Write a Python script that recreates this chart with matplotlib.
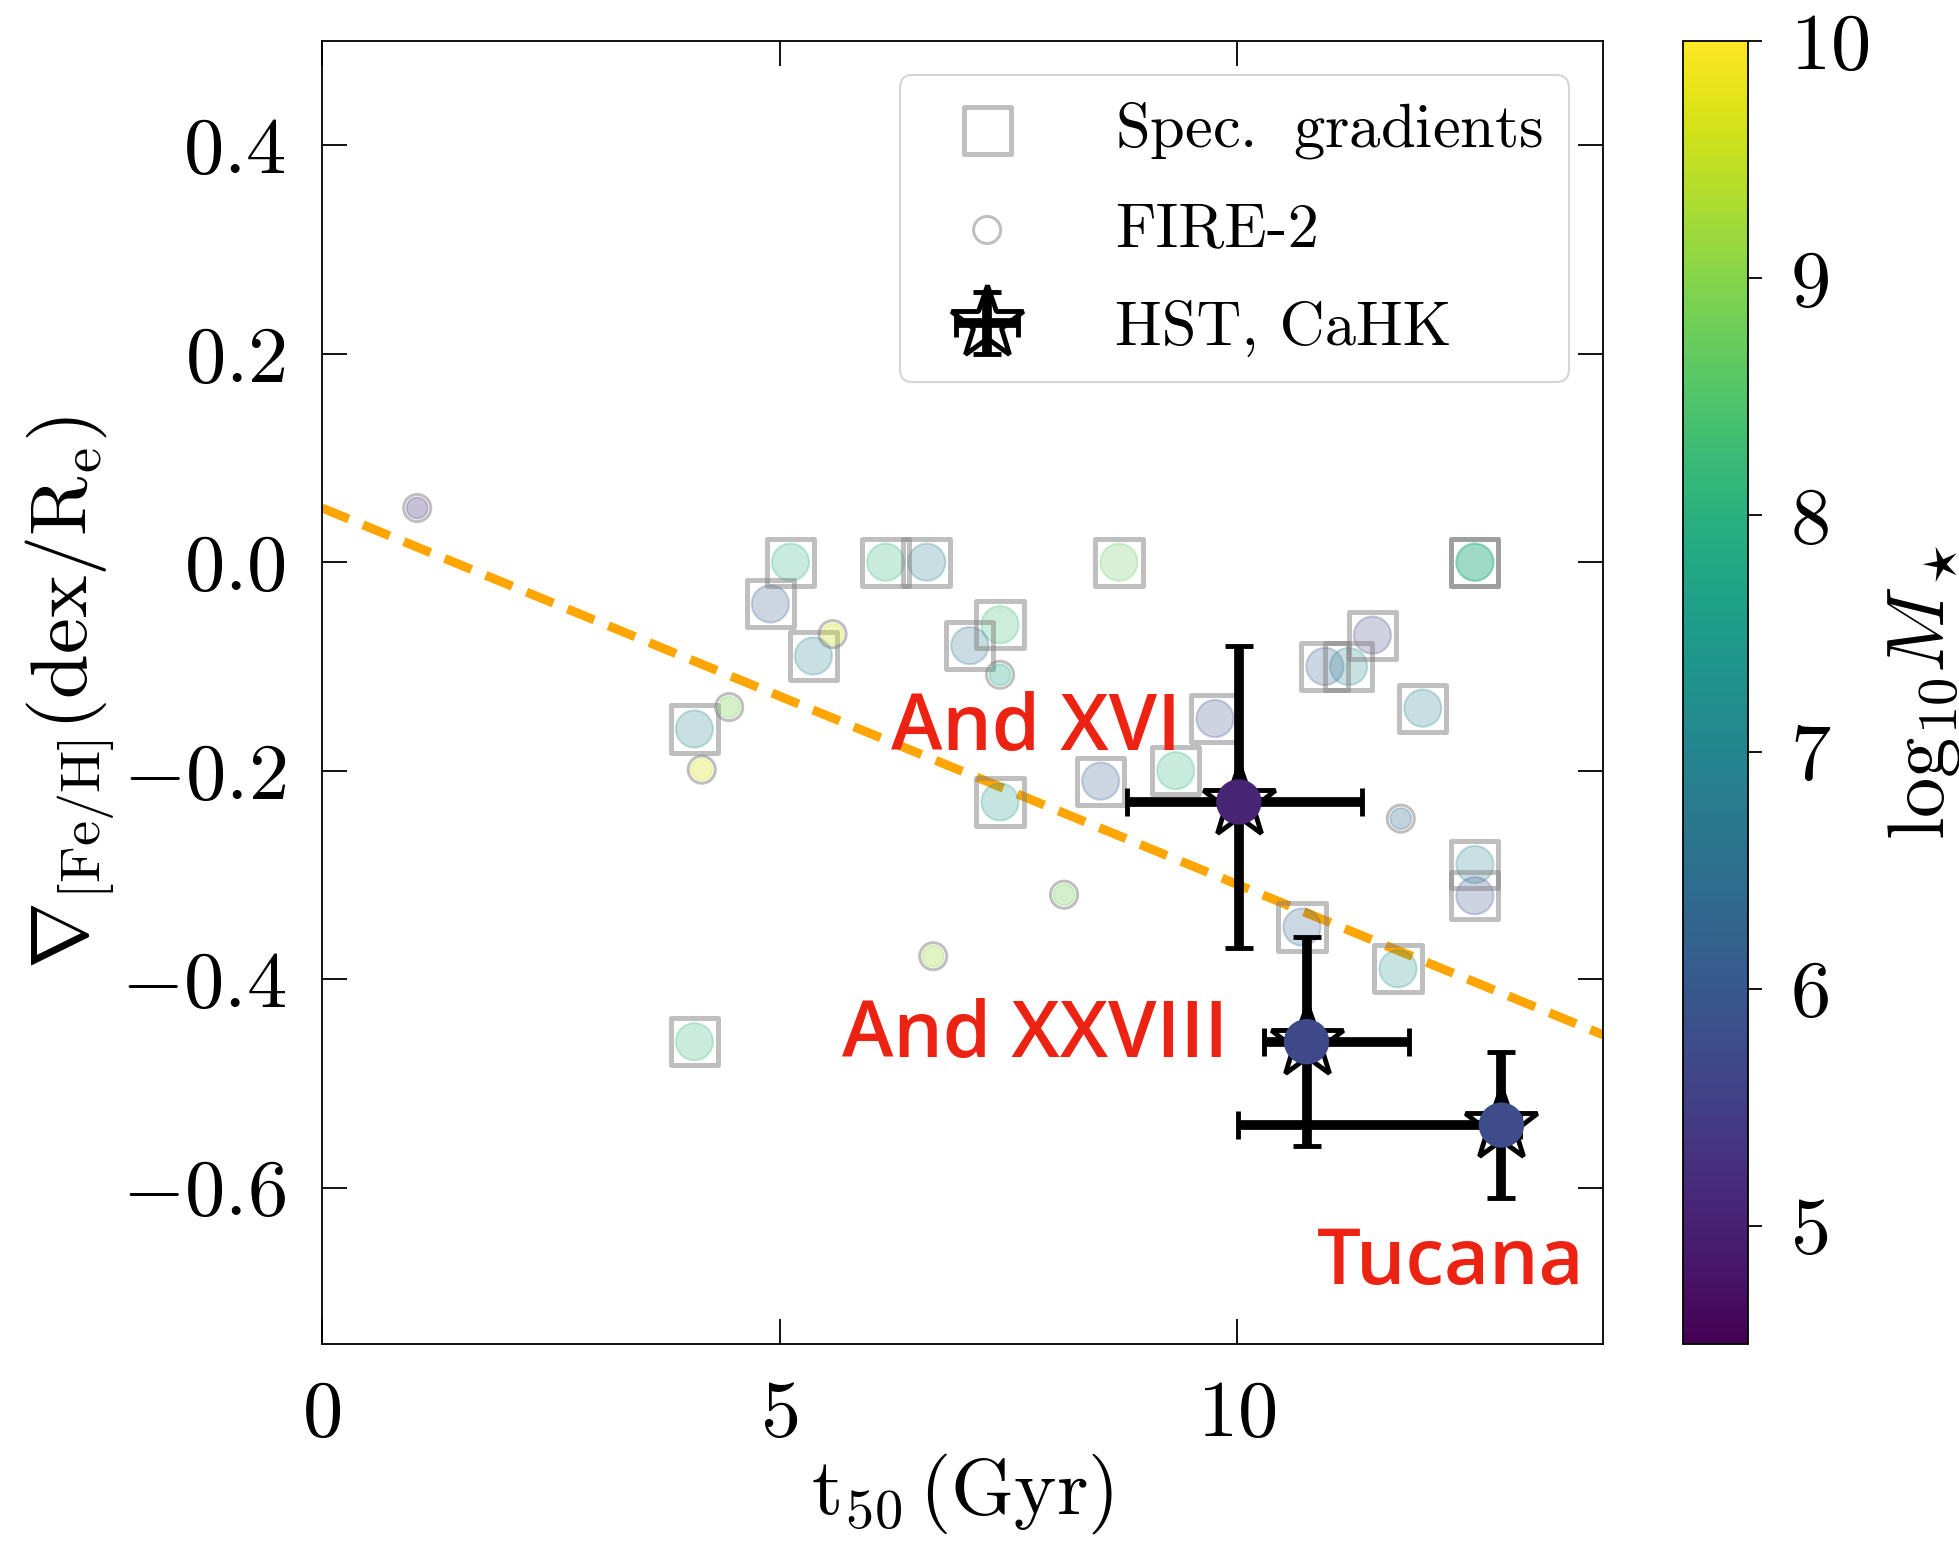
import numpy as np
import matplotlib
matplotlib.use("Agg")
import matplotlib.pyplot as plt
from matplotlib.colors import Normalize

plt.rcParams['font.family'] = 'serif'
plt.rcParams['font.serif'] = ['cmr10']
plt.rcParams['mathtext.fontset'] = 'cm'
plt.rcParams['axes.formatter.use_mathtext'] = True
plt.rcParams['axes.linewidth'] = 1.3

# spectroscopic gradients: t50 (Gyr), gradient (dex/Re), log10 M*
spec_t50 = [5.12, 6.16, 6.61, 8.71, 12.60, 12.60, 4.90, 5.37, 7.41, 7.08, 4.07, 11.48,
            10.96, 11.22, 12.03, 9.76, 8.51, 9.33, 7.41, 12.60, 12.60, 10.71, 11.76, 4.07]
spec_grad = [0.00, 0.00, 0.00, 0.00, 0.00, 0.00, -0.04, -0.09, -0.06, -0.08, -0.16, -0.07,
             -0.10, -0.10, -0.14, -0.15, -0.21, -0.20, -0.23, -0.29, -0.32, -0.35, -0.39, -0.46]
spec_mass = [7.9, 8.0, 6.8, 8.7, 7.9, 7.9, 6.0, 7.0, 8.2, 6.6, 7.0, 5.6,
             6.1, 7.0, 6.9, 5.8, 6.1, 8.0, 7.5, 7.0, 5.9, 6.2, 7.3, 8.1]

# FIRE-2 simulated dwarfs
fire_t50 = [1.04, 5.58, 7.41, 4.45, 4.15, 8.11, 6.68, 11.79]
fire_grad = [0.052, -0.069, -0.108, -0.139, -0.199, -0.319, -0.378, -0.246]
fire_mass = [5.3, 9.6, 7.7, 8.9, 9.7, 8.8, 9.2, 6.4]

# HST / CaHK galaxies
hst_names = ['And XVI', 'And XXVIII', 'Tucana']
hst_t50 = [10.02, 10.76, 12.89]
hst_t50_lo = [1.22, 0.47, 2.88]
hst_t50_hi = [1.35, 1.12, 0.20]
hst_grad = [-0.23, -0.46, -0.54]
hst_grad_lo = [0.14, 0.10, 0.07]
hst_grad_hi = [0.15, 0.10, 0.07]
hst_mass = [5.05, 5.70, 5.75]

# linear trend
fit_slope = -0.0361
fit_icpt = 0.052

# label anchors (left, baseline)
label_x = [6.22, 5.68, 10.87]
label_y = [-0.180, -0.475, -0.692]

norm = Normalize(vmin=4.5, vmax=10)
cmap = plt.get_cmap('viridis')

fig = plt.figure(figsize=(19.59, 15.45), dpi=100)
ax = fig.add_axes([322/1959, 201/1545, 1281/1959, 1303/1545])
cax = fig.add_axes([1683/1959, 201/1545, 65/1959, 1303/1545])

tt = np.array([0, 14])
ax.plot(tt, fit_icpt + fit_slope*tt, color='orange', lw=6.5, ls=(0, (3.2, 1.7)), zorder=1)

ax.scatter(spec_t50, spec_grad, c=spec_mass, cmap=cmap, norm=norm, s=720, alpha=0.25,
           linewidths=1.5, zorder=2)
sq = ax.scatter(spec_t50, spec_grad, marker='s', s=1150, facecolors='none',
                edgecolors='gray', linewidths=3.6, alpha=0.5, zorder=2,
                label=r'Spec.$\;$ gradients')

ax.scatter(fire_t50, fire_grad, c=fire_mass, cmap=cmap, norm=norm, s=230, alpha=0.3,
           linewidths=1.2, zorder=2)
fr = ax.scatter(fire_t50, fire_grad, marker='o', s=380, facecolors='none',
                edgecolors='gray', linewidths=2.2, alpha=0.5, zorder=2, label='FIRE-2')

eb = ax.errorbar(hst_t50, hst_grad, xerr=[hst_t50_lo, hst_t50_hi],
                 yerr=[hst_grad_lo, hst_grad_hi], fmt='*', ms=55, mfc='none', mec='k',
                 mew=3.5, ecolor='k', elinewidth=7, capsize=10, capthick=3.6,
                 zorder=3, label='HST, CaHK')
ax.scatter(hst_t50, hst_grad, c=hst_mass, cmap=cmap, norm=norm, s=1000, zorder=4)

for name, lx, ly in zip(hst_names, label_x, label_y):
    ax.text(lx, ly, name, color='#ec2312', fontsize=56, family='Open Sans',
            fontweight='semibold', ha='left', va='baseline', zorder=5)

ax.set_xlim(0, 14)
ax.set_ylim(-0.75, 0.5)
ax.set_xticks([0, 5, 10])
ax.set_yticks([-0.6, -0.4, -0.2, 0.0, 0.2, 0.4])
ax.tick_params(direction='in', top=True, right=True, length=18, width=1.3,
               labelsize=58, pad=26)
ax.set_xlabel(r'$\rm t_{50}\,(Gyr)$', fontsize=58, labelpad=0)
ax.set_ylabel(r'$\nabla_{\rm [Fe/H]}({\rm dex/R_e})$', fontsize=58, labelpad=3)

leg = ax.legend(handles=[sq, fr, eb], loc='upper right', fontsize=45,
                scatterpoints=1, borderaxespad=0.55, handletextpad=1.05,
                handlelength=2.0, labelspacing=0.66, borderpad=0.4)
leg.get_frame().set_linewidth(1.5)

sm = plt.cm.ScalarMappable(norm=norm, cmap=cmap)
cb = fig.colorbar(sm, cax=cax)
cb.set_ticks([5, 6, 7, 8, 9, 10])
cb.ax.tick_params(labelsize=58, length=10, width=1.3, pad=20)
cb.outline.set_linewidth(1.3)
cb.set_label(r'$\mathrm{log}_{10}M_\star$', fontsize=58, labelpad=12)

fig.savefig('out.png', dpi=100)
